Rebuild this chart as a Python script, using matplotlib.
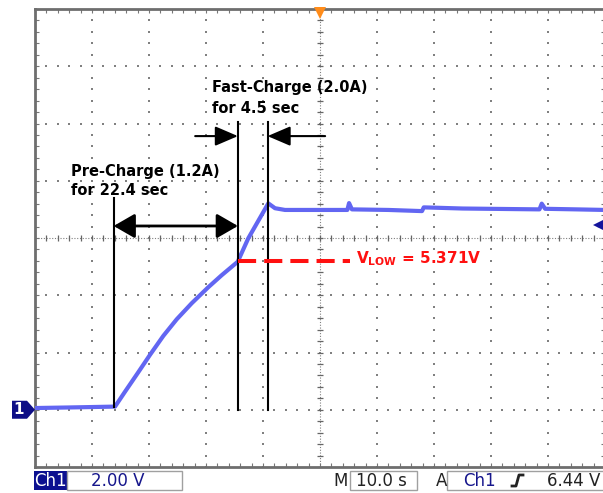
import numpy as np
import matplotlib
matplotlib.use('Agg')
import matplotlib.pyplot as plt
from matplotlib.patches import Rectangle, Polygon
from matplotlib.lines import Line2D

plt.rcParams['mathtext.fontset'] = 'custom'
plt.rcParams['mathtext.rm'] = 'DejaVu Sans:bold'
plt.rcParams['mathtext.bf'] = 'DejaVu Sans:bold'

# Ch1 trace (time in s from left edge, volts)
t_trace = [0, 6, 14.04, 15.79, 18.12, 20.18, 22.51, 24.86, 27.49, 30.40, 32.75,
           35.56, 37.42, 40.93, 42.11, 43.86, 46.5, 54.8, 55.1, 55.6, 62.0,
           67.9, 68.2, 75.0, 88.5, 88.9, 89.5, 95.0, 100]
v_trace = [0.06, 0.08, 0.11, 0.63, 1.31, 1.92, 2.58, 3.16, 3.72, 4.28, 4.70,
           5.17, 5.99, 7.21, 7.04, 6.98, 6.98, 6.98, 7.22, 7.00, 6.98,
           6.94, 7.07, 7.03, 7.00, 7.20, 7.02, 7.00, 6.98]

# markers
pre_start = 13.8
pre_end = 35.6
fast_end = 40.8
v_low = 5.21          # where the red line sits
v_low_label = 5.371
trig_level = 6.44
volt_div = 2.00
time_div = 10.0

W, H = 603, 493
fig = plt.figure(figsize=(W / 100, H / 100), dpi=100)
ax = fig.add_axes([35 / W, 26 / H, 570 / W, 458 / H])
ax.set_xlim(0, 10 * time_div)
ax.set_ylim(-volt_div, 7 * volt_div)

# graticule
minor_x = np.arange(0, 100.01, time_div / 5)
minor_y = np.arange(-2, 14.01, volt_div / 5)
for gx in np.arange(10, 100, 10):
    if gx == 50:
        continue
    ax.plot(np.full(len(minor_y), gx), minor_y, ls='none', marker='s', ms=1.5,
            mew=0, color='#808080', zorder=1)
for gy in np.arange(0, 14, 2):
    if gy == 6:
        continue
    ax.plot(minor_x, np.full(len(minor_x), gy), ls='none', marker='s', ms=1.5,
            mew=0, color='#808080', zorder=1)
ax.axvline(50, ls=(0, (1, 1.5)), color='#808080', lw=0.8, zorder=1)
ax.axhline(6, ls=(0, (1, 1.5)), color='#808080', lw=0.8, zorder=1)
ax.plot(np.full(len(minor_y), 50), minor_y, ls='none', marker='_', ms=5, mew=0.9,
        color='#666666', zorder=1)
ax.plot(minor_x, np.full(len(minor_x), 6), ls='none', marker='|', ms=5, mew=0.9,
        color='#666666', zorder=1)

ax.set_xticks(minor_x)
ax.set_yticks(minor_y)
ax.tick_params(direction='in', length=3, width=0.8, color='#777777',
               top=True, right=True, labelbottom=False, labelleft=False)
for s in ax.spines.values():
    s.set_color('#6e6e6e')
    s.set_linewidth(2)

# trace
ax.plot(t_trace, v_trace, color='#6266f2', lw=3.0, zorder=3, solid_joinstyle='round')

# black cursor lines
ax.plot([pre_start, pre_start], [0.10, 7.40], color='black', lw=1.5, zorder=4)
ax.plot([pre_end, pre_end], [-0.01, 10.05], color='black', lw=1.5, zorder=4)
ax.plot([fast_end, fast_end], [-0.01, 10.05], color='black', lw=1.5, zorder=4)

arr = dict(arrowstyle='<|-|>,head_length=13,head_width=7.5', mutation_scale=1,
           color='black', lw=2, shrinkA=0, shrinkB=0)
ax.annotate('', xy=(pre_end, 6.42), xytext=(pre_start, 6.42), arrowprops=arr, zorder=5)
arr1 = dict(arrowstyle='-|>,head_length=14,head_width=6', mutation_scale=1,
            color='black', lw=1.5, shrinkA=0, shrinkB=0)
ax.annotate('', xy=(pre_end, 9.56), xytext=(28.1, 9.56), arrowprops=arr1, zorder=5)
ax.annotate('', xy=(fast_end, 9.56), xytext=(50.9, 9.56), arrowprops=arr1, zorder=5)

tf = dict(family='DejaVu Sans', weight='bold', fontsize=10.5, va='baseline', zorder=6)
ax.text(31.05, 11.10, 'Fast-Charge (2.0A)', **tf)
ax.text(31.05, 10.37, 'for 4.5 sec', **tf)
ax.text(6.26, 8.17, 'Pre-Charge (1.2A)', **tf)
ax.text(6.26, 7.50, 'for 22.4 sec', **tf)

# red V_low line
ax.plot([pre_end, 55.3], [v_low, v_low], color='#ff1010', lw=2.9,
        ls=(0, (4.5, 2)), zorder=5)
ax.text(56.3, 5.13, r'$\mathbf{V_{LOW}}$ = %.3fV' % v_low_label, color='#ff1010',
        family='DejaVu Sans', weight='bold', fontsize=11, va='baseline', zorder=6)

# trigger position and level markers
ax.plot(50, 13.85, marker='v', ms=8, color='#ff8c1a', mew=0, clip_on=False, zorder=7)
ax.plot(98.9, trig_level, marker='<', ms=8, color='#14149c', mew=0, clip_on=False, zorder=7)
ax.plot([98.9, 100], [trig_level, trig_level], color='#14149c', lw=2.5, clip_on=False, zorder=7)

# channel 1 ground marker
fig.canvas.draw()
gx, gy = ax.transData.transform((0, 0))
px_l = gx - 23
ground = Polygon([[px_l, gy - 9], [gx - 8, gy - 9], [gx, gy], [gx - 8, gy + 9],
                  [px_l, gy + 9]], closed=True, fc='#0e0e86', ec='none',
                 transform=None, zorder=8)
fig.add_artist(ground)
fig.text((px_l + 7) / W, gy / H, '1', color='white', fontsize=11, weight='bold',
         family='DejaVu Sans', ha='center', va='center', zorder=9)


# status bar (pixel coords, y measured from top)
def fx(x):
    return x / W


def fy(y):
    return 1 - y / H


top, bot = 471, 490
ymid = fy((top + bot) / 2)
fig.add_artist(Rectangle((fx(34), fy(bot)), fx(67) - fx(34), fy(top) - fy(bot),
                         transform=fig.transFigure, fc='#0c1090', ec='none'))
for x0, x1 in [(67, 182), (350, 417), (447, 612)]:
    fig.add_artist(Rectangle((fx(x0), fy(bot)), fx(x1) - fx(x0), fy(top) - fy(bot),
                             transform=fig.transFigure, fc='white', ec='#a0a0a0', lw=1))
sf = dict(family='DejaVu Sans', fontsize=12, va='center')
fig.text(fx(50.5), ymid, 'Ch1', color='white', ha='center', **sf)
fig.text(fx(91), ymid, '%.2f V' % volt_div, color='#16168c', **sf)
fig.text(fx(333), ymid, 'M', color='#222222', **sf)
fig.text(fx(356), ymid, '%.1f s' % time_div, color='#222222', **sf)
fig.text(fx(436), ymid, 'A', color='#222222', **sf)
fig.text(fx(463), ymid, 'Ch1', color='#16168c', **sf)
fig.text(fx(547), ymid, '%.2f V' % trig_level, color='#222222', **sf)
fig.add_artist(Line2D([fx(512), fx(516), fx(519), fx(523)],
                      [fy(486), fy(486), fy(475), fy(475)],
                      transform=fig.transFigure, color='#222222', lw=2))

fig.savefig('out.png', dpi=100, facecolor='white')
